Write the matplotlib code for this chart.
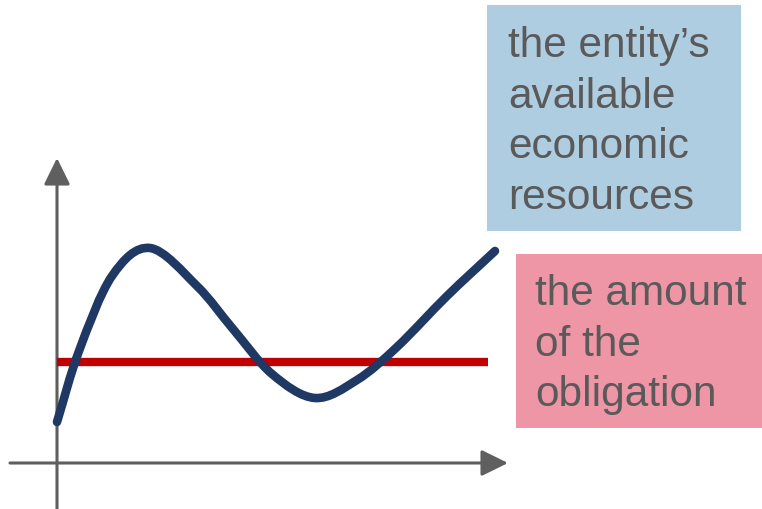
import matplotlib
matplotlib.use("Agg")
import matplotlib.pyplot as plt
import numpy as np
from matplotlib.patches import Rectangle, PathPatch
from matplotlib.path import Path

# Coordinates: origin at the crossing of the two axes, y pointing up.
resource_x = [0, 22, 55, 93, 140, 176, 215, 258, 300, 340, 390, 438]
resource_y = [41, 112, 187, 215, 177, 134, 89, 65, 83, 116, 167, 212]

obligation_x = [0, 431]
obligation_level = 101

resource_lines = ["the entity\u2019s", "available", "economic", "resources"]
obligation_lines = ["the amount", "of the", "obligation"]


def smooth_path(xs, ys):
    """Catmull-Rom curve through the given points, as cubic Bezier segments."""
    p = np.column_stack([xs, ys]).astype(float)
    ext = np.vstack([2 * p[0] - p[1], p, 2 * p[-1] - p[-2]])
    verts = [p[0]]
    codes = [Path.MOVETO]
    for i in range(1, len(ext) - 2):
        p0, p1, p2, p3 = ext[i - 1], ext[i], ext[i + 1], ext[i + 2]
        verts += [p1 + (p2 - p0) / 6, p2 - (p3 - p1) / 6, p2]
        codes += [Path.CURVE4] * 3
    return Path(verts, codes)


fig = plt.figure(figsize=(7.62, 5.10), dpi=100)
ax = fig.add_axes([0, 0, 1, 1])
ax.set_xlim(-57, 705)
ax.set_ylim(-46, 464)
ax.axis("off")

axis_grey = "#5f5f5f"
text_grey = "#5a5a5a"

arrow = dict(arrowstyle="-|>,head_length=0.65,head_width=0.32",
             lw=2.2, color=axis_grey, shrinkA=0, shrinkB=0, mutation_scale=25)
ax.annotate("", xy=(0, 305), xytext=(0, -46), arrowprops=arrow)
ax.annotate("", xy=(451, 0), xytext=(-47, 0), arrowprops=arrow)

# obligation level
ax.plot(obligation_x, [obligation_level] * 2, color="#C00000", lw=6,
        solid_capstyle="butt", zorder=3)

# available resources
ax.add_patch(PathPatch(smooth_path(resource_x, resource_y), facecolor="none",
                       edgecolor="#1F3864", lw=6.2, joinstyle="round",
                       capstyle="round", zorder=4))

# label boxes
ax.add_patch(Rectangle((430, 232), 254, 226, facecolor="#AFCDE1",
                       edgecolor="none", zorder=1))
ax.add_patch(Rectangle((459, 35), 246, 174, facecolor="#EE96A6",
                       edgecolor="none", zorder=1))

font = dict(family=["Liberation Sans", "DejaVu Sans"], fontsize=30.5,
            color=text_grey, ha="left", va="baseline", zorder=5)
for i, line in enumerate(resource_lines):
    ax.text(451, 407 - 50.7 * i, line, **font)
for i, line in enumerate(obligation_lines):
    ax.text(478, 159 - 50.7 * i, line, **font)

fig.savefig("out.png", dpi=100)
